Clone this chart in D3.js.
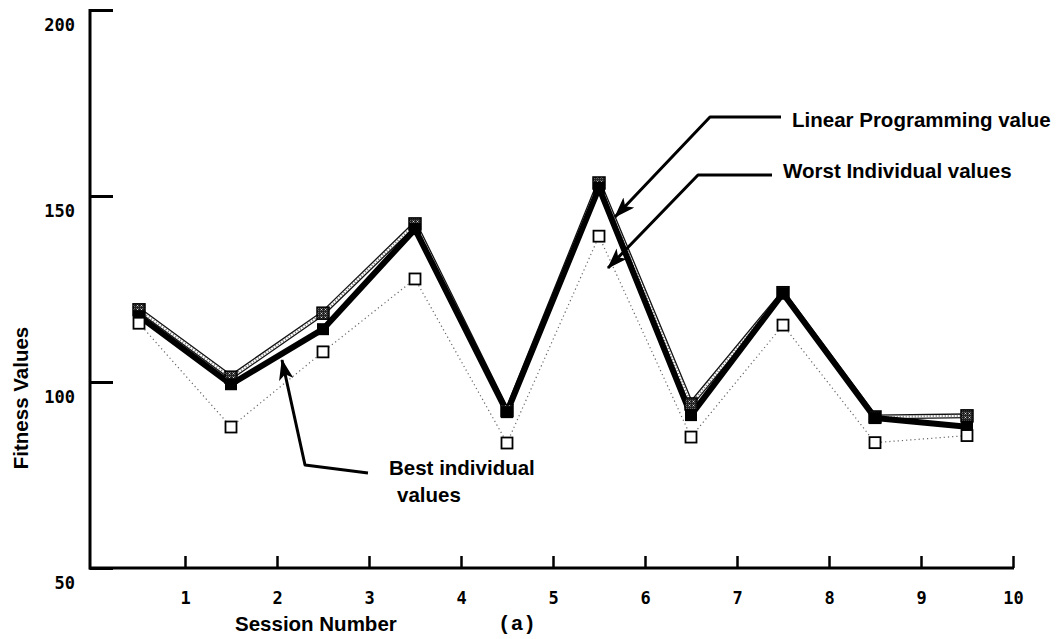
<!DOCTYPE html>
<html>
<head>
<meta charset="utf-8">
<script src="https://cdn.jsdelivr.net/npm/d3@7"></script>
<style>
  html, body { margin: 0; padding: 0; background: #fff; }
  svg { display: block; }
</style>
</head>
<body>
<svg id="chart" width="1062" height="639"></svg>
<script>
// Session numbers (points sit in the middle of each session interval)
const sessions = [1, 2, 3, 4, 5, 6, 7, 8, 9, 10];
// Linear programming solution per session
const lpValues = [117.7, 99.4, 114.2, 141.1, 91.9, 152.2, 91.1, 123.8, 90.3, 88.0];
// Worst individual of the population per session
const worstValues = [119.4, 101.3, 118.5, 142.5, 92.3, 153.5, 94.1, 124.0, 90.6, 90.9];
// Best individual of the population per session
const bestValues = [115.8, 87.9, 108.1, 127.7, 83.6, 139.2, 85.2, 115.3, 83.7, 85.6];
// Axis ticks
const xTicks = [1, 2, 3, 4, 5, 6, 7, 8, 9, 10];
const yTicks = [50, 100, 150, 200];

const svg = d3.select("#chart");
svg.append("rect").attr("width", 1062).attr("height", 639).attr("fill", "#fff");

const x = d3.scaleLinear().domain([0, 10]).range([93, 1013]);
const y = d3.scaleLinear().domain([50, 200]).range([568, 10]);

const defs = svg.append("defs");
// cross-hatched fill for the worst-value markers
const pat = defs.append("pattern")
  .attr("id", "hatch").attr("patternUnits", "userSpaceOnUse")
  .attr("width", 4).attr("height", 4);
pat.append("rect").attr("width", 4).attr("height", 4).attr("fill", "#222");
pat.append("path").attr("d", "M0.5,0.5L2.5,2.5M2.5,0.5L0.5,2.5")
  .attr("stroke", "#eee").attr("stroke-width", 0.7);

defs.append("marker")
  .attr("id", "arrow").attr("viewBox", "0 0 20 14")
  .attr("refX", 19).attr("refY", 7)
  .attr("markerWidth", 21).attr("markerHeight", 15)
  .attr("markerUnits", "userSpaceOnUse")
  .attr("orient", "auto")
  .append("path").attr("d", "M0,0L20,7L0,14L5,7Z").attr("fill", "#000");

// ---- axes ----
const monoFont = "'DejaVu Sans Mono', monospace";

const yAxis = svg.append("g")
  .attr("transform", "translate(90,0)")
  .call(d3.axisLeft(y).tickValues(yTicks).tickSizeInner(-23).tickSizeOuter(0).tickPadding(15))
  .call(g => g.select(".domain").remove());
yAxis.selectAll(".tick line").attr("stroke", "#000").attr("stroke-width", 3);
yAxis.selectAll(".tick text")
  .attr("dy", 20)
  .attr("font-family", monoFont).attr("font-weight", "bold")
  .attr("font-size", 17).attr("fill", "#000");

const xAxis = svg.append("g")
  .attr("transform", "translate(0,568)")
  .call(d3.axisBottom(x).tickValues(xTicks).tickSizeInner(-12).tickSizeOuter(0).tickPadding(24))
  .call(g => g.select(".domain").remove());
xAxis.selectAll(".tick line").attr("stroke", "#000").attr("stroke-width", 2.5);
xAxis.selectAll(".tick text")
  .attr("font-family", monoFont).attr("font-weight", "bold")
  .attr("font-size", 17).attr("fill", "#000");

// axis lines
svg.append("line")
  .attr("x1", 90).attr("x2", 90).attr("y1", y(200) - 1).attr("y2", y(50) + 1.5)
  .attr("stroke", "#000").attr("stroke-width", 3);
svg.append("line")
  .attr("x1", 89).attr("x2", x(10) + 1).attr("y1", y(50)).attr("y2", y(50))
  .attr("stroke", "#000").attr("stroke-width", 3);

// ---- series ----
const pos = sessions.map(s => s - 0.5);
const line = d3.line().x(d => x(d[0])).y(d => y(d[1]));
const worstPts = pos.map((p, i) => [p, worstValues[i]]);
const lpPts = pos.map((p, i) => [p, lpValues[i]]);
const bestPts = pos.map((p, i) => [p, bestValues[i]]);

// worst: outlined, stippled band
svg.append("path").datum(worstPts).attr("d", line)
  .attr("fill", "none").attr("stroke", "#111").attr("stroke-width", 5)
  .attr("stroke-linejoin", "round");
svg.append("path").datum(worstPts).attr("d", line)
  .attr("fill", "none").attr("stroke", "#fff").attr("stroke-width", 2.4)
  .attr("stroke-linejoin", "round");
svg.append("path").datum(worstPts).attr("d", line)
  .attr("fill", "none").attr("stroke", "#777").attr("stroke-width", 2.4)
  .attr("stroke-dasharray", "1,2");

// best: light dotted
svg.append("path").datum(bestPts).attr("d", line)
  .attr("fill", "none").attr("stroke", "#666").attr("stroke-width", 1.2)
  .attr("stroke-dasharray", "1.2,3");

// linear programming: heavy solid
svg.append("path").datum(lpPts).attr("d", line)
  .attr("fill", "none").attr("stroke", "#000").attr("stroke-width", 6)
  .attr("stroke-linejoin", "round");

// markers: hatched (worst) under solid (LP) under open (best)
const S = 12;
svg.append("g").selectAll("rect").data(worstPts).join("rect")
  .attr("x", d => x(d[0]) - S / 2).attr("y", d => y(d[1]) - S / 2)
  .attr("width", S).attr("height", S).attr("fill", "url(#hatch)")
  .attr("stroke", "#000").attr("stroke-width", 1.5);
svg.append("g").selectAll("rect").data(lpPts).join("rect")
  .attr("x", d => x(d[0]) - S / 2).attr("y", d => y(d[1]) - S / 2)
  .attr("width", S).attr("height", S).attr("fill", "#000");
svg.append("g").selectAll("rect").data(bestPts).join("rect")
  .attr("x", d => x(d[0]) - 5.5).attr("y", d => y(d[1]) - 5.5)
  .attr("width", 11).attr("height", 11).attr("fill", "#fff")
  .attr("stroke", "#000").attr("stroke-width", 1.8);

// ---- annotations ----
const sansFont = "'Liberation Sans', Arial, Helvetica, sans-serif";
const label = (tx, ty, str, anchor) => svg.append("text")
  .attr("x", tx).attr("y", ty).attr("text-anchor", anchor || "start")
  .attr("font-family", sansFont).attr("font-weight", "bold")
  .attr("font-size", 20.5).attr("fill", "#000").text(str);

const leader = pts => svg.append("path")
  .attr("d", d3.line()(pts))
  .attr("fill", "none").attr("stroke", "#000").attr("stroke-width", 3)
  .attr("stroke-linejoin", "round")
  .attr("marker-end", "url(#arrow)");

leader([[781, 117], [710, 117], [615, 217]]);
label(792, 127, "Linear Programming value");

leader([[772, 175], [698, 175], [608, 268]]);
label(783, 178, "Worst Individual values");

leader([[368, 473], [305, 465], [282, 360]]);
label(389, 475, "Best individual");
label(397, 502, "values");

// axis titles
label(235, 631, "Session Number");
svg.append("text")
  .attr("transform", "translate(28,398) rotate(-90)")
  .attr("text-anchor", "middle")
  .attr("font-family", sansFont).attr("font-weight", "bold")
  .attr("font-size", 20.5).attr("fill", "#000").text("Fitness Values");

svg.append("text")
  .attr("x", 517).attr("y", 630).attr("text-anchor", "middle")
  .attr("font-family", "'Liberation Mono', 'Courier New', monospace")
  .attr("font-weight", "bold").attr("font-size", 21).attr("fill", "#000")
  .text("(a)");
</script>
</body>
</html>
